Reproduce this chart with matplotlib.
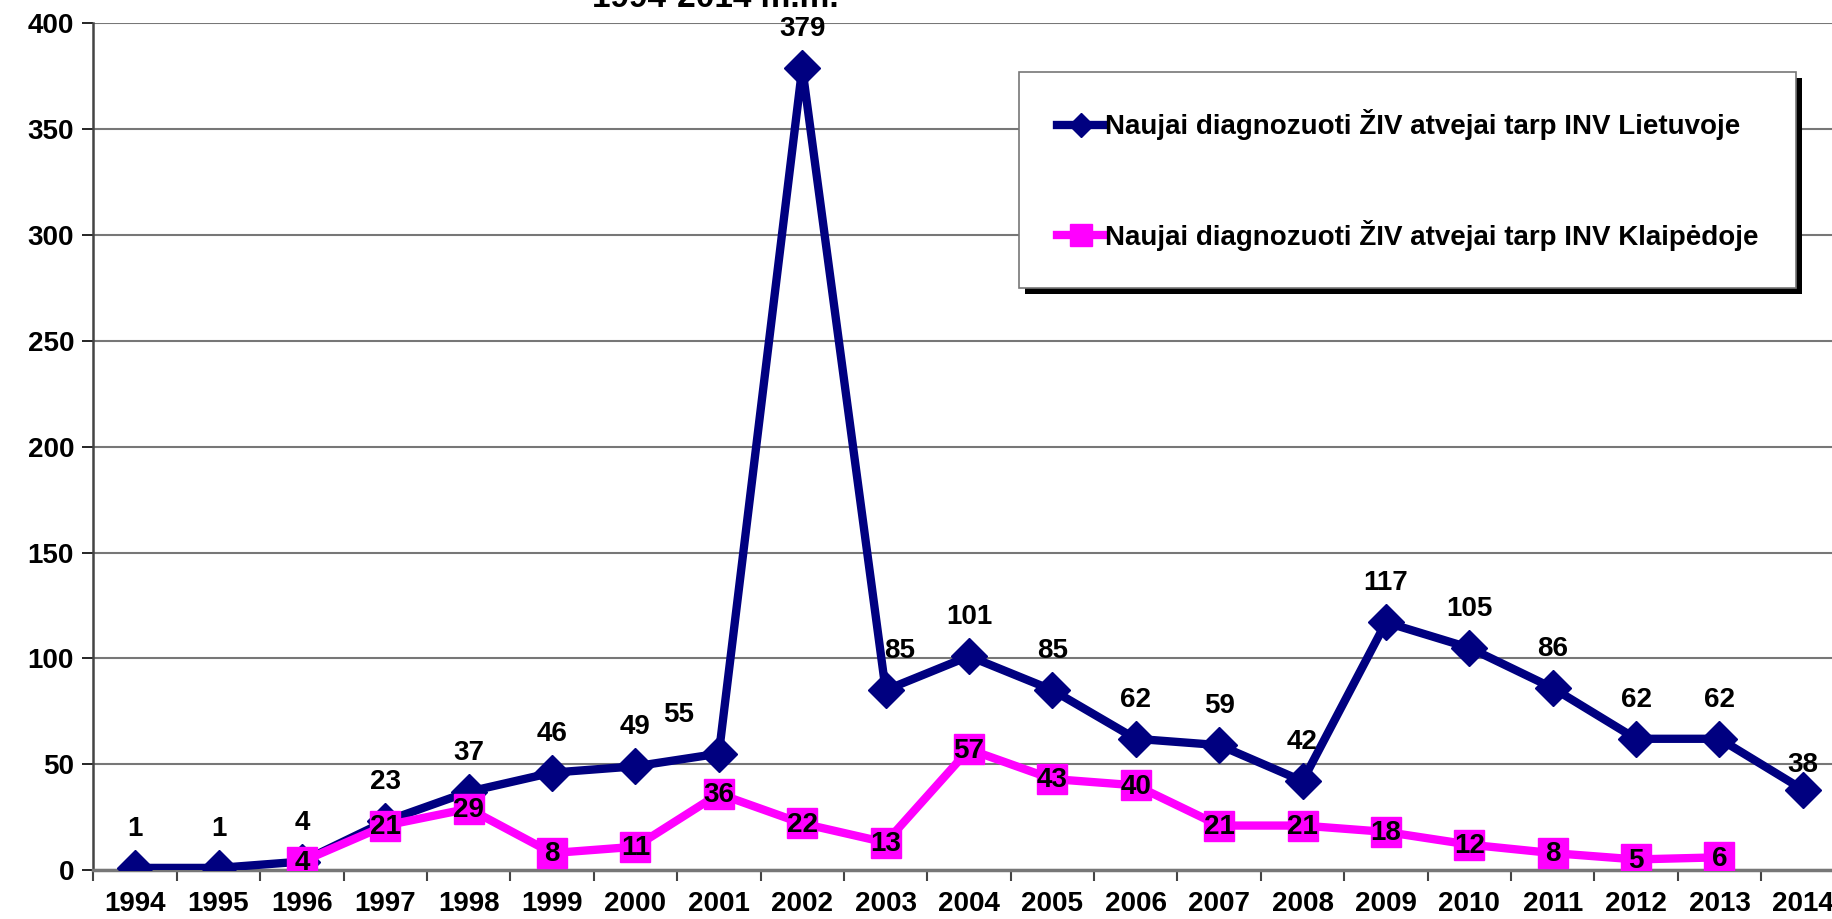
import matplotlib
matplotlib.use("Agg")
from matplotlib import pyplot as plt
from matplotlib.patches import Rectangle
from matplotlib.transforms import IdentityTransform

years = [str(y) for y in range(1994, 2015)]
lietuva = [1, 1, 4, 23, 37, 46, 49, 55, 379, 85, 101, 85, 62, 59, 42, 117, 105, 86, 62, 62, 38]
klaipeda_years = [str(y) for y in range(1996, 2014)]
klaipeda = [4, 21, 29, 8, 11, 36, 22, 13, 57, 43, 40, 21, 21, 18, 12, 8, 5, 6]

plt.rcParams['font.family'] = ['Liberation Sans', 'DejaVu Sans']
plt.rcParams['font.weight'] = 'bold'
FS = 20

fig = plt.figure(figsize=(18.33, 9.19), dpi=100)
ax = fig.add_axes([0.051, 0.0533, 0.9553, 0.9213])

x_lt = list(range(len(years)))
x_kl = [years.index(y) for y in klaipeda_years]

ax.plot(x_lt, lietuva, color='#000080', lw=6, marker='D', ms=18,
        label='Naujai diagnozuoti ŽIV atvejai tarp INV Lietuvoje', zorder=3)
ax.plot(x_kl, klaipeda, color='#FF00FF', lw=6, marker='s', ms=22,
        label='Naujai diagnozuoti ŽIV atvejai tarp INV Klaipėdoje', zorder=4)

# data labels
for i, v in zip(x_lt, lietuva):
    dx, dy = 0, 28
    if years[i] == '2001':
        dx = -29
    if years[i] == '2003':
        dx = 10
    if years[i] == '2014':
        dy = 18
    ax.annotate(str(v), (i, v), xytext=(dx, dy), textcoords='offset points',
                ha='center', va='center', fontsize=FS, fontweight='bold', zorder=6)
for i, v in zip(x_kl, klaipeda):
    ax.annotate(str(v), (i, v), xytext=(0, -1), textcoords='offset points',
                ha='center', va='center', fontsize=FS, fontweight='bold', zorder=6)

ax.set_xlim(-0.5, len(years) - 0.5)
ax.set_ylim(0, 400)
ax.set_yticks(range(0, 401, 50))
ax.set_xticks(x_lt)
ax.set_xticklabels(years)
ax.set_xticks([k + 0.5 for k in range(-1, len(years))], minor=True)
ax.tick_params(axis='x', which='major', length=0, labelsize=FS, pad=15)
ax.tick_params(axis='x', which='minor', length=8, width=1.5, color='#444444', direction='out')
ax.tick_params(axis='y', length=8, width=1.2, labelsize=FS, pad=6)
for lab in ax.get_xticklabels() + ax.get_yticklabels():
    lab.set_fontweight('bold')

ax.yaxis.grid(True, color='#777777', lw=1.5)
ax.set_axisbelow(True)
for s in ['top', 'right']:
    ax.spines[s].set_visible(False)
ax.spines['left'].set_color('#444444')
ax.spines['left'].set_linewidth(1.8)
ax.spines['bottom'].set_color('#777777')
ax.spines['bottom'].set_linewidth(2.5)

leg = ax.legend(loc='upper left', bbox_to_anchor=(0.5286, 0.9426), borderaxespad=0,
                frameon=True, fancybox=False, framealpha=1, edgecolor='#777777',
                fontsize=FS, handlelength=1.75, handletextpad=0.0, borderpad=1.35,
                labelspacing=2.85, markerscale=0.7)
leg.get_frame().set_linewidth(1.2)
for t in leg.get_texts():
    t.set_fontweight('bold')

# legend drop shadow
fig.canvas.draw()
bb = leg.get_window_extent()
ax.add_patch(Rectangle((bb.x0 + 6, bb.y0 - 6), bb.width, bb.height, transform=IdentityTransform(),
                       facecolor='black', edgecolor='none', zorder=4.9, clip_on=False))

fig.text(0.39, 0.9924, '1994-2014 m.m.', ha='center', va='baseline',
         fontsize=24, fontweight='bold')

fig.savefig('out.png', dpi=100)
